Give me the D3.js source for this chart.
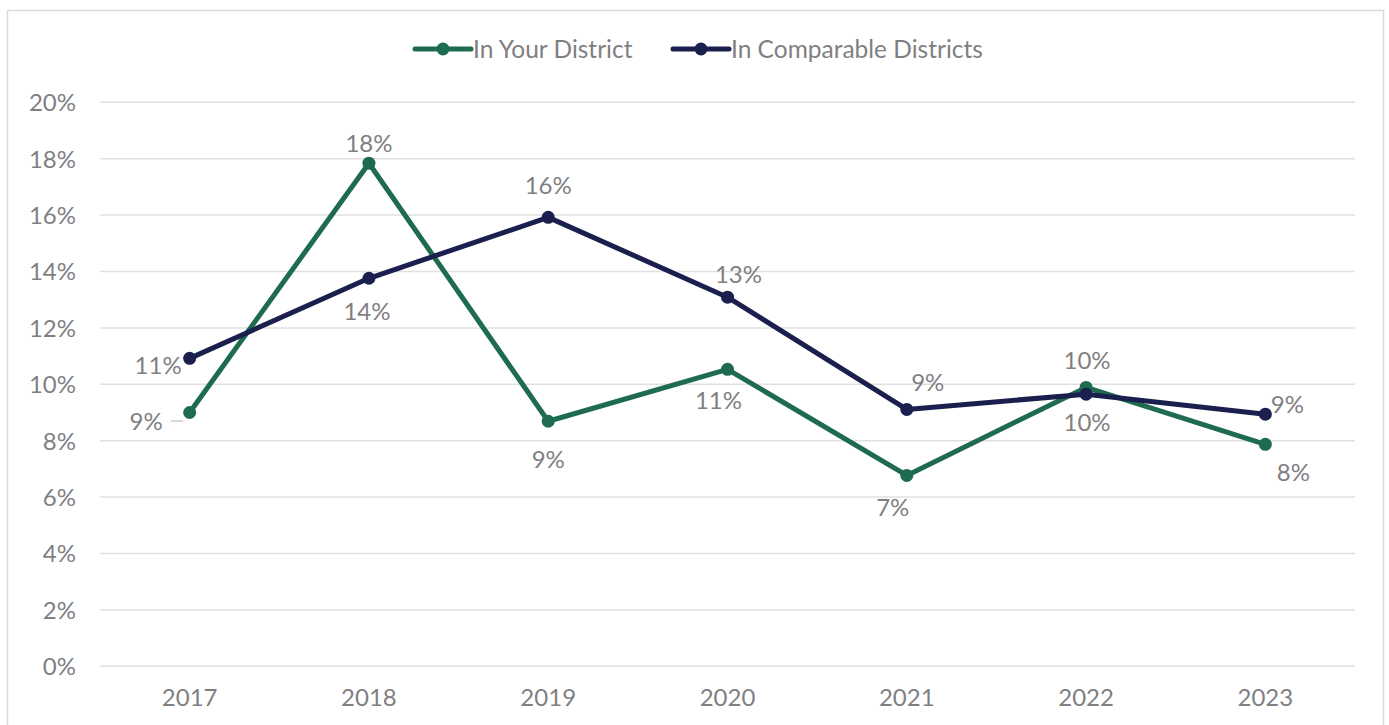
<!DOCTYPE html>
<html><head><meta charset="utf-8">
<script src="https://cdn.jsdelivr.net/npm/d3@7"></script>
<style>
body{margin:0;background:#fff;}
text{font-family:"Lato","Open Sans",sans-serif;fill:#7f7f83;}
</style></head>
<body><svg id="c" width="1389" height="725"></svg>
<script>
const years = ["2017","2018","2019","2020","2021","2022","2023"];
const yourDistrict = [9.0, 17.84, 8.69, 10.53, 6.77, 9.89, 7.87];
const comparable = [10.92, 13.76, 15.92, 13.09, 9.11, 9.65, 8.94];
const yTicks = [0,2,4,6,8,10,12,14,16,18,20];
const seriesNames = ["In Your District","In Comparable Districts"];
// label placement offsets (dx, dy of text centre) relative to the point
const yourLabelPos = [[-27,9],[0,-20],[0,38],[-9,31],[-14,32],[1,-27],[28,28]];
const compLabelPos = [[-8,7],[-2,33],[0,-32],[11,-23],[21,-27],[1,28],[22,-10]];

const svg = d3.select("#c");
svg.append("rect").attr("x",7.5).attr("y",10.5).attr("width",1376).attr("height",730)
  .attr("fill","#fff").attr("stroke","#d9d9d9").attr("stroke-width",1.5);

const x = d3.scaleBand().domain(years).range([100,1355]);
const y = d3.scaleLinear().domain([0,20]).range([666.3,102.3]);

const grid = svg.append("g");
grid.selectAll("line").data(yTicks).join("line")
  .attr("x1",100).attr("x2",1355).attr("y1",d=>y(d)).attr("y2",d=>y(d))
  .attr("stroke","#e0e0e0").attr("stroke-width",1.5);

const yAxis = svg.append("g").attr("transform","translate(76,0)")
  .call(d3.axisLeft(y).tickValues(yTicks).tickFormat(d=>d+"%").tickSize(0));
yAxis.select(".domain").remove();
yAxis.selectAll("text").attr("font-size",24).attr("x",0).attr("dy","0.35em");

const xAxis = svg.append("g").attr("transform","translate(0,666)")
  .call(d3.axisBottom(x).tickSize(0));
xAxis.select(".domain").remove();
xAxis.selectAll("text").attr("font-size",24).attr("y",40).attr("dy","0");

const colors = ["#1e6b4f","#1b1f4e"];
const allData = [yourDistrict, comparable];
const labelPos = [yourLabelPos, compLabelPos];
const cx = d=>x(d)+x.bandwidth()/2;

// leader line for first green label
svg.append("line").attr("x1",171).attr("x2",183).attr("y1",421).attr("y2",421)
  .attr("stroke","#bfbfbf").attr("stroke-width",1.2);

allData.forEach((vals,si)=>{
  const pts = vals.map((v,i)=>[cx(years[i]),y(v)]);
  svg.append("path").attr("d",d3.line()(pts)).attr("fill","none")
    .attr("stroke",colors[si]).attr("stroke-width",5).attr("stroke-linejoin","round");
  svg.append("g").selectAll("circle").data(pts).join("circle")
    .attr("cx",d=>d[0]).attr("cy",d=>d[1]).attr("r",6.5).attr("fill",colors[si]);
});
allData.forEach((vals,si)=>{
  svg.append("g").selectAll("text").data(vals).join("text")
    .attr("x",(d,i)=>cx(years[i])+labelPos[si][i][0])
    .attr("y",(d,i)=>y(d)+labelPos[si][i][1])
    .attr("dy","0.35em")
    .attr("text-anchor",(d,i)=> (i===0)?"end":"middle")
    .attr("font-size",24)
    .text(d=>Math.round(d)+"%");
});

// legend
const leg = svg.append("g");
const legX = [415, 673];
seriesNames.forEach((n,i)=>{
  const g = leg.append("g").attr("transform",`translate(${legX[i]},49)`);
  g.append("line").attr("x1",0).attr("x2",56).attr("y1",0).attr("y2",0)
    .attr("stroke",colors[i]).attr("stroke-width",5).attr("stroke-linecap","round");
  g.append("circle").attr("cx",28).attr("cy",0).attr("r",6.5).attr("fill",colors[i]);
  g.append("text").attr("x",58).attr("y",0).attr("dy","0.35em").attr("font-size",24.5).text(n);
});
</script></body></html>
